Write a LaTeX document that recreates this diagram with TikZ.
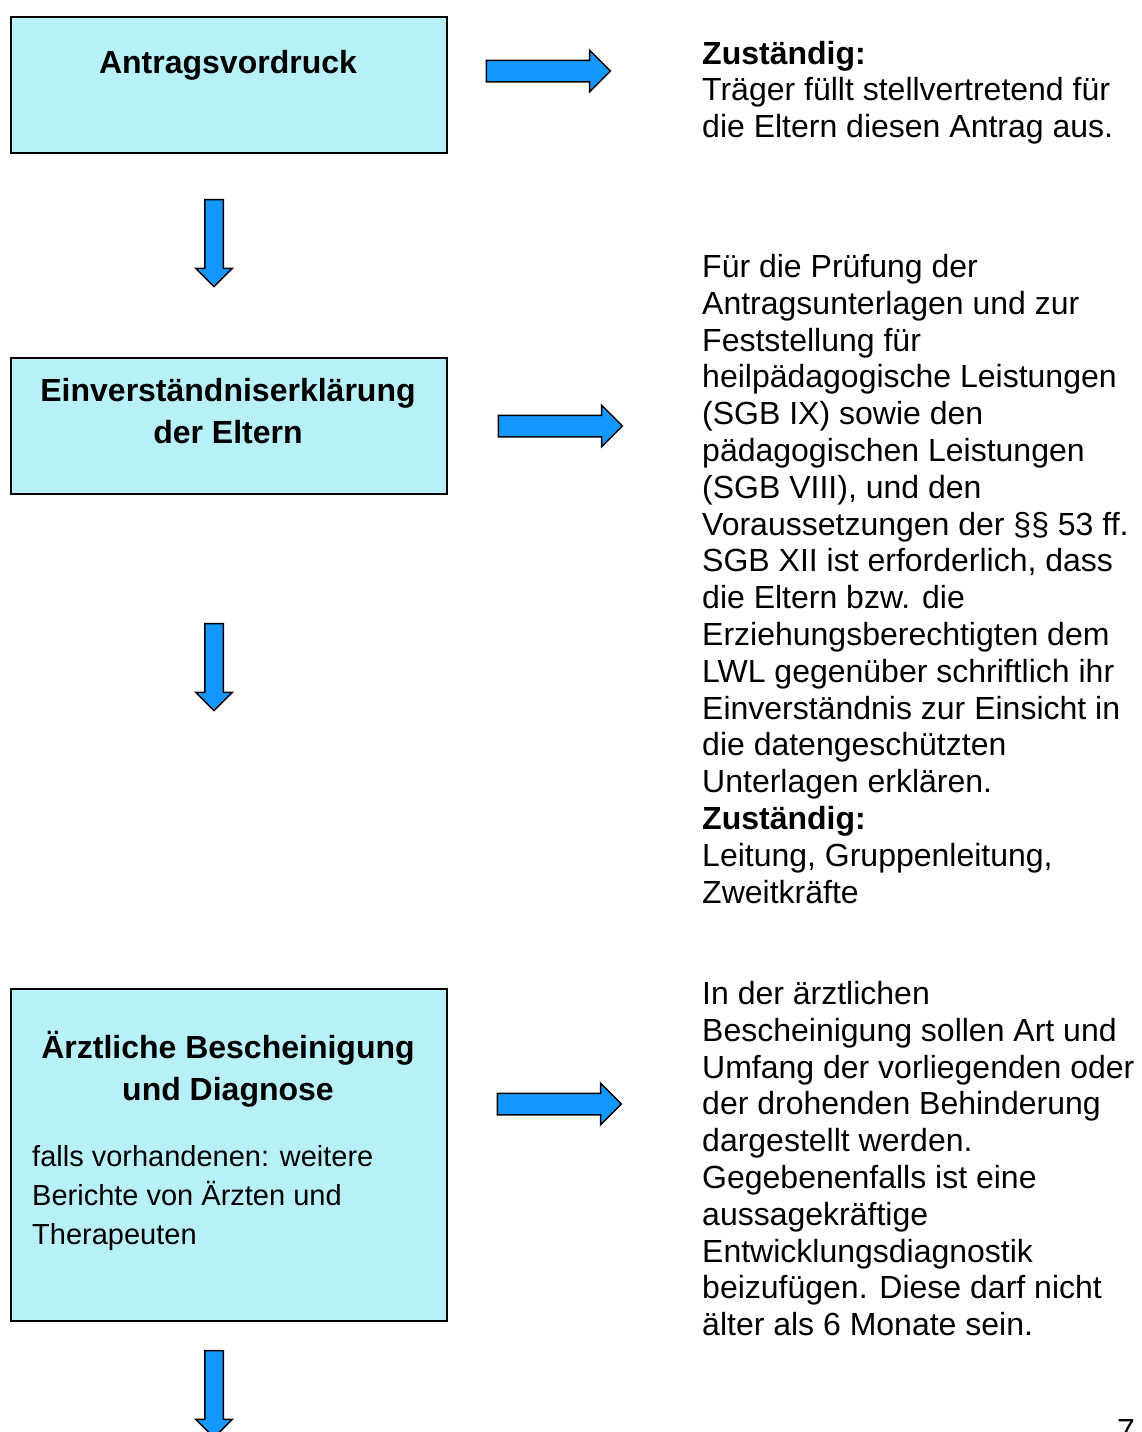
\documentclass[tikz,border=0pt]{standalone}
\usepackage{fontspec}
\setmainfont{Liberation Sans}
\usepackage{tikz}
\usetikzlibrary{shapes.arrows}
\definecolor{boxcyan}{RGB}{184,240,248}
\definecolor{arrowblue}{RGB}{20,152,255}

\begin{document}
\begin{tikzpicture}[x=1pt, y=-1pt,
  stepbox/.style={draw=black, line width=1.5pt, fill=boxcyan, minimum width=436pt, inner sep=0, anchor=north west},
  boxtitle/.style={font=\fontsize{32}{42}\selectfont\bfseries, align=center, anchor=base, inner sep=0},
  boxnote/.style={font=\fontsize{29}{39}\selectfont, align=left, anchor=base west, inner sep=0},
  sidetext/.style={font=\fontsize{32}{36.8}\selectfont, align=left, anchor=base west, inner sep=0},
  rightarrow/.style={single arrow, draw=black, line width=1.5pt, fill=arrowblue, minimum height=124pt, inner xsep=0, inner ysep=10pt, single arrow head extend=10pt},
  downarrow/.style={single arrow, draw=black, line width=1.5pt, fill=arrowblue, minimum height=87pt, inner xsep=0, inner ysep=8.5pt, single arrow head extend=9pt, rotate=-90},
]
\useasboundingbox (0,0) rectangle (1141,1432);

% multi-line nodes sit on the baseline of their last line

% ==================== Antragsvordruck ====================
\node[stepbox, minimum height=136pt] (antrag) at (10,16) {};
\node[boxtitle] (antragtitle) at (228,73) {Antragsvordruck};
\node[rightarrow] (antragpfeil) at (543,71) {};
\node[sidetext] (antragtext) at (702,137.6) {\textbf{Zuständig:}\\
Träger füllt stellvertretend für\\
die Eltern diesen Antrag aus.};
\node[downarrow] (pfeila) at (214,238.5) {};

% ==================== Einverstaendnis ====================
\node[stepbox, minimum height=136pt] (einverst) at (10,357) {};
\node[boxtitle] (einversttitle) at (228,443) {Einverständniserklärung\\der Eltern};
\node[rightarrow] (einverstpfeil) at (555,426) {};
\node[sidetext] (einversttext) at (702,903.1) {Für die Prüfung der\\
Antragsunterlagen und zur\\
Feststellung für\\
heilpädagogische Leistungen\\
(SGB IX) sowie den\\
pädagogischen Leistungen\\
(SGB VIII), und den\\
Voraussetzungen der §§ 53 ff.\\
SGB XII ist erforderlich, dass\\
die Eltern bzw. die\\
Erziehungsberechtigten dem\\
LWL gegenüber schriftlich ihr\\
Einverständnis zur Einsicht in\\
die datengeschützten\\
Unterlagen erklären.\\
\textbf{Zuständig:}\\
Leitung, Gruppenleitung,\\
Zweitkräfte};
\node[downarrow] (pfeilb) at (214,662.5) {};

% ==================== Aerztliche Bescheinigung ====================
\node[stepbox, minimum height=332pt] (arzt) at (10,988) {};
\node[boxtitle] (arzttitle) at (228,1100) {Ärztliche Bescheinigung\\und Diagnose};
\node[boxnote] (arztnote) at (32,1244) {falls vorhandenen: weitere\\
Berichte von Ärzten und\\
Therapeuten};
\node[rightarrow] (arztpfeil) at (554,1104) {};
\node[sidetext] (arzttext) at (702,1335.7) {In der ärztlichen\\
Bescheinigung sollen Art und\\
Umfang der vorliegenden oder\\
der drohenden Behinderung\\
dargestellt werden.\\
Gegebenenfalls ist eine\\
aussagekräftige\\
Entwicklungsdiagnostik\\
beizufügen. Diese darf nicht\\
älter als 6 Monate sein.};
\node[downarrow] (pfeilc) at (214,1389.5) {};

% page number
\node[sidetext] (seite) at (1117,1441) {7};

\end{tikzpicture}
\end{document}
